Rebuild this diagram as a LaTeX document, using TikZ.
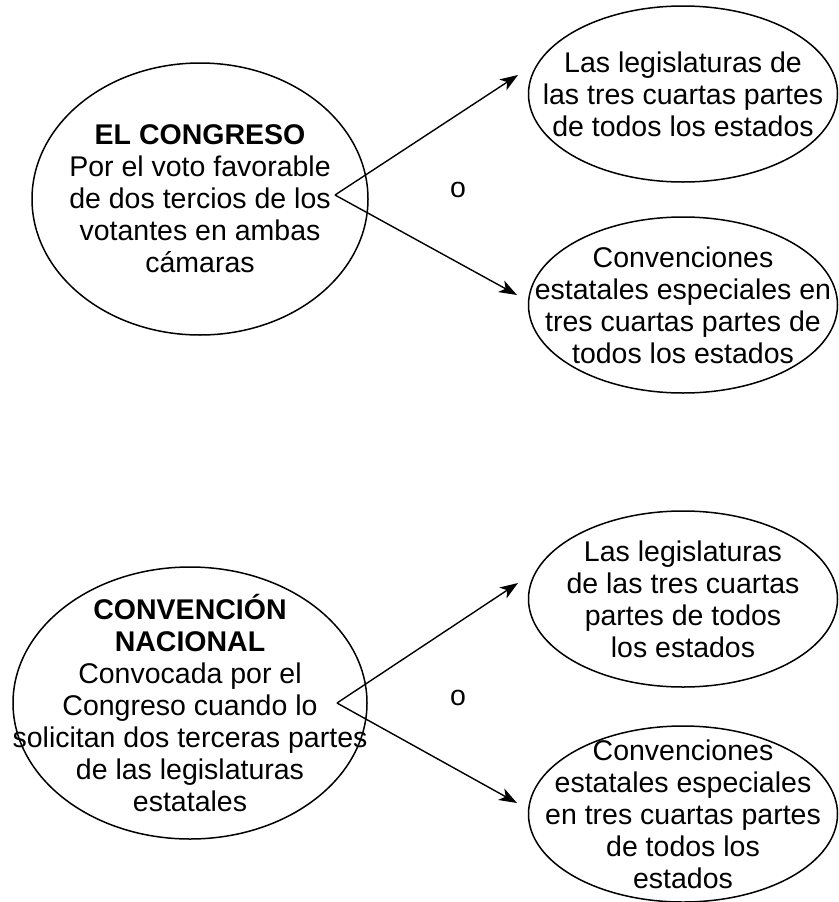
\documentclass[tikz,border=0pt]{standalone}
\usepackage{fontspec}
\setmainfont{Liberation Sans}
\usetikzlibrary{positioning,shapes,arrows.meta}

\begin{document}
\begin{tikzpicture}[%
        x=1pt, y=-1pt,
        flecha/.style={%
          -{Stealth[length=18pt,width=13pt,inset=5pt]},
          line width=1.4pt
        },
        caja/.style={%
          ellipse,
          draw,
          line width=1.5pt,
          inner xsep=-60pt, inner ysep=-40pt,
          align=center,
          font=\fontsize{28.5}{32}\selectfont
        },
        izq/.style={caja, minimum width=336pt, minimum height=272pt},
        der/.style={caja, minimum width=309pt, minimum height=176pt}
      ]
      \useasboundingbox (0,0) rectangle (838,902);

      \node[izq] (congreso) at (200,199) {\textbf{EL CONGRESO}\\Por el voto favorable\\de dos tercios de los\\votantes en ambas\\cámaras};
      \node[der] (legis1) at (683,94) {Las legislaturas de\\las tres cuartas partes\\de todos los estados};
      \node[der] (conv1) at (683,305) {Convenciones\\estatales especiales en\\tres cuartas partes de\\todos los estados};
      \node (o1) at (458,190) {\fontsize{28.5}{32}\selectfont o};

      \node[izq, minimum width=354pt] (convencion) at (190,703) {\textbf{CONVENCIÓN}\\\textbf{NACIONAL}\\Convocada por el\\Congreso cuando lo\\solicitan dos terceras partes\\de las legislaturas\\estatales};
      \node[der] (legis2) at (683,599) {Las legislaturas\\de las tres cuartas\\partes de todos\\los estados};
      \node[der] (conv2) at (683,814) {Convenciones\\estatales especiales\\en tres cuartas partes\\de todos los\\estados};
      \node (o2) at (458,698) {\fontsize{28.5}{32}\selectfont o};

      \coordinate (v1) at (335,195);
      \coordinate (t1) at (518,75);
      \coordinate (t2) at (517,295);
      \coordinate (v2) at (337,703);
      \coordinate (t3) at (518,583);
      \coordinate (t4) at (517,803);

      \path (v1) edge [flecha] (t1)
      (v1) edge [flecha] (t2)
      (v2) edge [flecha] (t3)
      (v2) edge [flecha] (t4);

    \end{tikzpicture}
\end{document}
